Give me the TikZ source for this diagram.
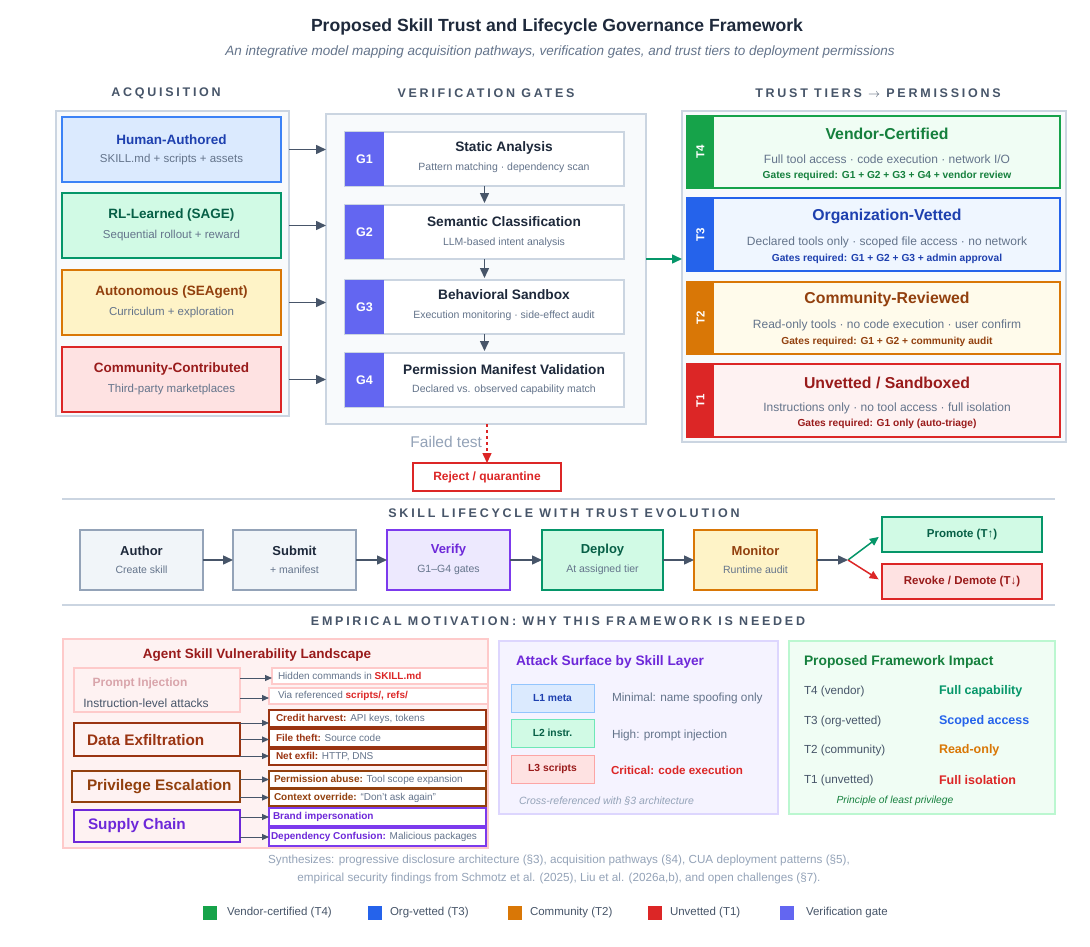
\documentclass[tikz,border=0pt]{standalone}
\usepackage{fontspec}
\setmainfont{Liberation Sans}
\newfontfamily\spacedfont[LetterSpace=22]{Liberation Sans}
\usetikzlibrary{arrows.meta,calc}
\newcommand\fsz[1]{\fontsize{#1}{#1}\selectfont}
\definecolor{cDark}{HTML}{1E293B}
\definecolor{cSlate6}{HTML}{475569}
\definecolor{cSub}{HTML}{64748B}
\definecolor{cLight}{HTML}{94A3B8}
\definecolor{cPanel}{HTML}{F8FAFC}
\definecolor{cPanelB}{HTML}{CBD5E1}
\definecolor{cSlate1}{HTML}{F1F5F9}
\definecolor{cSlate4}{HTML}{94A3B8}
\definecolor{cBlue5}{HTML}{3B82F6}
\definecolor{cBlue1}{HTML}{DBEAFE}
\definecolor{cBlue3}{HTML}{93C5FD}
\definecolor{cBlue8}{HTML}{1E40AF}
\definecolor{cBlue6}{HTML}{2563EB}
\definecolor{cBlue0}{HTML}{EFF6FF}
\definecolor{cEm6}{HTML}{059669}
\definecolor{cEm1}{HTML}{D1FAE5}
\definecolor{cEm3}{HTML}{6EE7B7}
\definecolor{cEm8}{HTML}{065F46}
\definecolor{cAm6}{HTML}{D97706}
\definecolor{cAm1}{HTML}{FEF3C7}
\definecolor{cAm8}{HTML}{92400E}
\definecolor{cAm0}{HTML}{FFFBEB}
\definecolor{cRed6}{HTML}{DC2626}
\definecolor{cRed1}{HTML}{FEE2E2}
\definecolor{cRed3}{HTML}{FCA5A5}
\definecolor{cRed8}{HTML}{991B1B}
\definecolor{cRed0}{HTML}{FEF2F2}
\definecolor{cRed2}{HTML}{FECACA}
\definecolor{cGreen6}{HTML}{16A34A}
\definecolor{cGreen0}{HTML}{F0FDF4}
\definecolor{cGreen7}{HTML}{15803D}
\definecolor{cGreen2}{HTML}{BBF7D0}
\definecolor{cIndigo}{HTML}{6366F1}
\definecolor{cViolet6}{HTML}{7C3AED}
\definecolor{cViolet7}{HTML}{6D28D9}
\definecolor{cViolet0}{HTML}{F5F3FF}
\definecolor{cViolet1}{HTML}{EDE9FE}
\definecolor{cViolet2}{HTML}{DDD6FE}
\definecolor{cOr8}{HTML}{9A3412}
\definecolor{cPink}{HTML}{D9A5AB}
\begin{document}
\begin{tikzpicture}[x=1pt,y=-1pt,
  every node/.style={inner sep=0pt,outer sep=0pt},
  nw/.style={anchor=north west},
  hdr/.style={font=\spacedfont\bfseries\fsz{12.5}, text=cSlate6},
  arr/.style={draw=cSlate6, line width=1.5pt, -{Triangle[length=10pt,width=9pt]}},
  tarr/.style={draw=cSlate6, line width=1pt, -{Triangle[length=7pt,width=6pt]}},
  subt/.style={font=\fsz{11.5}, text=cSub},
  atitle/.style={font=\bfseries\fsz{13.5}},
  gtitle/.style={font=\bfseries\fsz{13.7}, text=cDark},
  gsub/.style={font=\fsz{10.5}, text=cSub},
  ttitle/.style={font=\bfseries\fsz{15.8}},
  tdesc/.style={font=\fsz{12}, text=cSub},
  tgate/.style={font=\bfseries\fsz{10.2}},
  ltitle/.style={font=\bfseries\fsz{13}},
  lsub/.style={font=\fsz{10.5}, text=cSub},
  big/.style={font=\bfseries\fsz{15.3}, anchor=west},
  sbox/.style={nw, fill=white, line width=1.2pt, minimum width=217pt},
  stxt/.style={font=\fsz{10}, text=cSub, anchor=west},
  ltag/.style={nw, line width=1pt, minimum width=83pt, minimum height=28pt},
  ldesc/.style={font=\fsz{11.8}, text=cSub, anchor=west},
  irow/.style={font=\fsz{11.7}, text=cSlate6, anchor=west},
  ival/.style={font=\bfseries\fsz{12.5}, anchor=west},
  legsq/.style={nw, minimum width=14pt, minimum height=14pt},
  legtx/.style={font=\fsz{11.5}, text=cSlate6, anchor=west}
]
\useasboundingbox (0,0) rectangle (1090,947);
\fill[white] (0,0) rectangle (1090,947);

% title
\node[font=\bfseries\fsz{17.6}, text=cDark] (title) at (557,27) {Proposed Skill Trust and Lifecycle Governance Framework};
\node[font=\itshape\fsz{13.5}, text=cSub] (subtitle) at (560,52) {An integrative model mapping acquisition pathways, verification gates, and trust tiers to deployment permissions};

% section headers
\node[hdr] (h-acq) at (166,93) {ACQUISITION};
\node[hdr] (h-ver) at (486,93) {VERIFICATION GATES};
\node[hdr] (h-tt) at (878,93) {TRUST TIERS $\rightarrow$ PERMISSIONS};

% acquisition panel
\node[nw, draw=cPanelB, fill=cPanel, line width=1.5pt, minimum width=233pt, minimum height=305pt] (acq) at (56,111) {};
\node[nw, draw=cBlue5, fill=cBlue1, line width=1.5pt, minimum width=219pt, minimum height=65pt] (ha) at (62,117) {};
\node[atitle, text=cBlue8] (ha-t) at (171.5,139.5) {Human-Authored};
\node[subt] (ha-s) at (171.5,159.5) {SKILL.md + scripts + assets};
\node[nw, draw=cEm6, fill=cEm1, line width=1.5pt, minimum width=219pt, minimum height=65pt] (rl) at (62,193) {};
\node[atitle, text=cEm8] (rl-t) at (171.5,215.5) {RL-Learned (SAGE)};
\node[subt] (rl-s) at (171.5,235.5) {Sequential rollout + reward};
\node[nw, draw=cAm6, fill=cAm1, line width=1.5pt, minimum width=219pt, minimum height=65pt] (au) at (62,270) {};
\node[atitle, text=cAm8] (au-t) at (171.5,292.5) {Autonomous (SEAgent)};
\node[subt] (au-s) at (171.5,312.5) {Curriculum + exploration};
\node[nw, draw=cRed6, fill=cRed1, line width=1.5pt, minimum width=219pt, minimum height=65pt] (cc) at (62,347) {};
\node[atitle, text=cRed8] (cc-t) at (171.5,369.5) {Community-Contributed};
\node[subt] (cc-s) at (171.5,389.5) {Third-party marketplaces};

% verification panel
\node[nw, draw=cPanelB, fill=cPanel, line width=1.5pt, minimum width=320pt, minimum height=310pt] (ver) at (326,114) {};
\draw[arr] (acq.east |- ha.east) -- (ver.west |- ha.east);
\draw[arr] (acq.east |- rl.east) -- (ver.west |- rl.east);
\draw[arr] (acq.east |- au.east) -- (ver.west |- au.east);
\draw[arr] (acq.east |- cc.east) -- (ver.west |- cc.east);

\node[nw, draw=cPanelB, fill=white, line width=1.5pt, minimum width=279pt, minimum height=54pt] (g1) at (345,132) {};
\node[nw, fill=cIndigo, minimum width=39pt, minimum height=54pt] (g1b) at (345,132) {};
\node[font=\bfseries\fsz{12.5}, text=white] (g1l) at (g1b.center) {G1};
\node[gtitle] (g1t) at (504,147.5) {Static Analysis};
\node[gsub] (g1s) at (504,168) {Pattern matching · dependency scan};

\node[nw, draw=cPanelB, fill=white, line width=1.5pt, minimum width=279pt, minimum height=54pt] (g2) at (345,205) {};
\node[nw, fill=cIndigo, minimum width=39pt, minimum height=54pt] (g2b) at (345,205) {};
\node[font=\bfseries\fsz{12.5}, text=white] (g2l) at (g2b.center) {G2};
\node[gtitle] (g2t) at (504,221.5) {Semantic Classification};
\node[gsub] (g2s) at (504,243) {LLM-based intent analysis};

\node[nw, draw=cPanelB, fill=white, line width=1.5pt, minimum width=279pt, minimum height=54pt] (g3) at (345,280) {};
\node[nw, fill=cIndigo, minimum width=39pt, minimum height=54pt] (g3b) at (345,280) {};
\node[font=\bfseries\fsz{12.5}, text=white] (g3l) at (g3b.center) {G3};
\node[gtitle] (g3t) at (504,294.5) {Behavioral Sandbox};
\node[gsub] (g3s) at (504,316) {Execution monitoring · side-effect audit};

\node[nw, draw=cPanelB, fill=white, line width=1.5pt, minimum width=279pt, minimum height=54pt] (g4) at (345,353) {};
\node[nw, fill=cIndigo, minimum width=39pt, minimum height=54pt] (g4b) at (345,353) {};
\node[font=\bfseries\fsz{12.5}, text=white] (g4l) at (g4b.center) {G4};
\node[gtitle] (g4t) at (504,369.5) {Permission Manifest Validation};
\node[gsub] (g4s) at (504,390) {Declared vs. observed capability match};

\draw[arr, shorten >=2pt] (g1.south) -- (g2.north);
\draw[arr, shorten >=2pt] (g2.south) -- (g3.north);
\draw[arr, shorten >=2pt] (g3.south) -- (g4.north);

% reject
\node[nw, draw=cRed6, fill=white, line width=1.2pt, minimum width=148pt, minimum height=28pt] (rej) at (413,463) {};
\node[font=\bfseries\fsz{12}, text=cRed6] (rej-t) at (rej.center) {Reject / quarantine};
\draw[draw=cRed6, line width=1.5pt, dashed, -{Triangle[length=10pt,width=9pt]}] (ver.south -| rej.north) -- (rej.north);
\node[font=\fsz{15.5}, text=cLight, anchor=east] (failed) at (482,442) {Failed test};

% trust tiers
\node[nw, draw=cPanelB, fill=cPanel, line width=1.5pt, minimum width=384pt, minimum height=331pt] (tt) at (682,111) {};
\coordinate (gateout) at (646,259);
\draw[draw=cEm6, line width=1.5pt, -{Triangle[length=10pt,width=9pt]}] (gateout) -- (gateout -| tt.west);

\node[nw, draw=cGreen6, fill=cGreen0, line width=2pt, minimum width=373pt, minimum height=72pt] (t4) at (687,116) {};
\node[nw, fill=cGreen6, minimum width=27pt, minimum height=72pt] (t4b) at (687,116) {};
\node[font=\bfseries\fsz{11.5}, text=white, rotate=90] (t4l) at (t4b.center) {T4};
\node[ttitle, text=cGreen7] (t4t) at (887,133.5) {Vendor-Certified};
\node[tdesc] (t4d) at (887,159) {Full tool access · code execution · network I/O};
\node[tgate, text=cGreen7] (t4g) at (887,176) {Gates required: G1 + G2 + G3 + G4 + vendor review};

\node[nw, draw=cBlue6, fill=cBlue0, line width=2pt, minimum width=373pt, minimum height=73pt] (t3) at (687,198) {};
\node[nw, fill=cBlue6, minimum width=27pt, minimum height=73pt] (t3b) at (687,198) {};
\node[font=\bfseries\fsz{11.5}, text=white, rotate=90] (t3l) at (t3b.center) {T3};
\node[ttitle, text=cBlue8] (t3t) at (887,216.5) {Organization-Vetted};
\node[tdesc] (t3d) at (887,242) {Declared tools only · scoped file access · no network};
\node[tgate, text=cBlue8] (t3g) at (887,259) {Gates required: G1 + G2 + G3 + admin approval};

\node[nw, draw=cAm6, fill=cAm0, line width=2pt, minimum width=373pt, minimum height=72pt] (t2) at (687,282) {};
\node[nw, fill=cAm6, minimum width=27pt, minimum height=72pt] (t2b) at (687,282) {};
\node[font=\bfseries\fsz{11.5}, text=white, rotate=90] (t2l) at (t2b.center) {T2};
\node[ttitle, text=cAm8] (t2t) at (887,299.5) {Community-Reviewed};
\node[tdesc] (t2d) at (887,325) {Read-only tools · no code execution · user confirm};
\node[tgate, text=cAm8] (t2g) at (887,342) {Gates required: G1 + G2 + community audit};

\node[nw, draw=cRed6, fill=cRed0, line width=2pt, minimum width=373pt, minimum height=73pt] (t1) at (687,364) {};
\node[nw, fill=cRed6, minimum width=27pt, minimum height=73pt] (t1b) at (687,364) {};
\node[font=\bfseries\fsz{11.5}, text=white, rotate=90] (t1l) at (t1b.center) {T1};
\node[ttitle, text=cRed8] (t1t) at (887,382.5) {Unvetted / Sandboxed};
\node[tdesc] (t1d) at (887,408) {Instructions only · no tool access · full isolation};
\node[tgate, text=cRed8] (t1g) at (887,424) {Gates required: G1 only (auto-triage)};

% separators
\draw[cPanelB, line width=1.5pt] (62,499) -- (1055,499);
\draw[cPanelB, line width=1.5pt] (62,605) -- (1055,605);

% lifecycle
\node[hdr] (h-lc) at (564,513) {SKILL LIFECYCLE WITH TRUST EVOLUTION};
\node[nw, draw=cSlate4, fill=cSlate1, line width=1.2pt, minimum width=123pt, minimum height=60pt] (lau) at (80,530) {};
\node[ltitle, text=cDark] (lau-t) at (141.5,550.5) {Author};
\node[lsub] (lau-s) at (141.5,569.5) {Create skill};
\node[nw, draw=cSlate4, fill=cSlate1, line width=1.2pt, minimum width=123pt, minimum height=60pt] (lsu) at (233,530) {};
\node[ltitle, text=cDark] (lsu-t) at (294.5,550.5) {Submit};
\node[lsub] (lsu-s) at (294.5,569.5) {+ manifest};
\node[nw, draw=cViolet6, fill=cViolet1, line width=1.2pt, minimum width=123pt, minimum height=60pt] (lve) at (387,530) {};
\node[ltitle, text=cViolet7] (lve-t) at (448.5,550.5) {Verify};
\node[lsub] (lve-s) at (448.5,569.5) {G1–G4 gates};
\node[nw, draw=cEm6, fill=cEm1, line width=1.2pt, minimum width=121pt, minimum height=60pt] (lde) at (542,530) {};
\node[ltitle, text=cEm8] (lde-t) at (602.5,550.5) {Deploy};
\node[lsub] (lde-s) at (602.5,569.5) {At assigned tier};
\node[nw, draw=cAm6, fill=cAm1, line width=1.2pt, minimum width=123pt, minimum height=60pt] (lmo) at (694,530) {};
\node[ltitle, text=cAm8] (lmo-t) at (755.5,550.5) {Monitor};
\node[lsub] (lmo-s) at (755.5,569.5) {Runtime audit};
\draw[arr] (lau.east) -- (lsu.west);
\draw[arr] (lsu.east) -- (lve.west);
\draw[arr] (lve.east) -- (lde.west);
\draw[arr] (lde.east) -- (lmo.west);
\node[nw, draw=cEm6, fill=cEm1, line width=1.2pt, minimum width=160pt, minimum height=35pt] (lpr) at (882,517) {};
\node[font=\bfseries\fsz{11.5}, text=cEm8] (lpr-t) at (lpr.center) {Promote (T↑)};
\node[nw, draw=cRed6, fill=cRed1, line width=1.2pt, minimum width=160pt, minimum height=35pt] (lrv) at (882,564) {};
\node[font=\bfseries\fsz{11.5}, text=cRed8] (lrv-t) at (lrv.center) {Revoke / Demote (T↓)};
\coordinate (split) at (848,560);
\draw[arr] (lmo.east) -- (split);
\draw[draw=cEm6, line width=1.5pt, -{Triangle[length=9pt,width=8pt]}, shorten >=4pt] (split) -- (lpr.west);
\draw[draw=cRed6, line width=1.5pt, -{Triangle[length=9pt,width=8pt]}, shorten >=4pt] (split) -- (lrv.west);

% empirical
\node[hdr] (h-em) at (558,621) {EMPIRICAL MOTIVATION: WHY THIS FRAMEWORK IS NEEDED};

% vulnerability panel
\node[nw, draw=cRed2, fill=cRed0, line width=1.5pt, minimum width=425pt, minimum height=209pt] (vul) at (63,639) {};
\node[font=\bfseries\fsz{13.5}, text=cRed8] (vul-t) at (257,655.5) {Agent Skill Vulnerability Landscape};

\node[nw, draw=cRed2, fill=cRed0, line width=1.5pt, minimum width=166pt, minimum height=44pt] (pi) at (74,668) {};
\node[font=\bfseries\fsz{12}, text=cPink] (pi-t) at (140,683) {Prompt Injection};
\node[font=\fsz{12}, text=cSlate6] (pi-s) at (146,703) {Instruction-level attacks};
\node[sbox, draw=cRed2, minimum width=216pt, minimum height=16pt] (pi1) at (272,668) {};
\node[stxt] (pi1-t) at (278,676) {Hidden commands in \textcolor{cRed6}{\bfseries SKILL.md}};
\node[sbox, draw=cRed2, minimum width=219pt, minimum height=16pt] (pi2) at (269,688) {};
\node[stxt] (pi2-t) at (278,696) {Via referenced \textcolor{cRed6}{\bfseries scripts/, refs/}};
\draw[tarr] (pi.east |- 0,678) -- (pi1.west |- 0,678);
\draw[tarr] (pi.east |- 0,698) -- (pi2.west |- 0,698);

\node[nw, draw=cOr8, fill=cRed0, line width=1.5pt, minimum width=166pt, minimum height=33pt] (de) at (74,723) {};
\node[big, text=cOr8] (de-t) at (87,740) {Data Exfiltration};
\node[sbox, draw=cOr8, minimum height=17pt] (de1) at (269,710) {};
\node[stxt] (de1-t) at (276,718.5) {\textcolor{cOr8}{\bfseries Credit harvest:} API keys, tokens};
\node[sbox, draw=cOr8, minimum height=18pt] (de2) at (269,729) {};
\node[stxt] (de2-t) at (276,738) {\textcolor{cOr8}{\bfseries File theft:} Source code};
\node[sbox, draw=cOr8, minimum height=16pt] (de3) at (269,749) {};
\node[stxt] (de3-t) at (276,757) {\textcolor{cOr8}{\bfseries Net exfil:} HTTP, DNS};
\draw[tarr] (de.north east) -- (de1.west |- de.north east);
\draw[tarr] (de.east) -- (de2.west |- de.east);
\draw[tarr] (de.south east) -- (de3.west |- de.south east);

\node[nw, draw=cAm8, fill=cRed0, line width=1.5pt, minimum width=168pt, minimum height=31pt] (pe) at (72,771) {};
\node[big, text=cAm8] (pe-t) at (87,786.5) {Privilege Escalation};
\node[sbox, draw=cAm8, minimum height=17pt] (pe1) at (269,771) {};
\node[stxt] (pe1-t) at (274,779.5) {\textcolor{cAm8}{\bfseries Permission abuse:} Tool scope expansion};
\node[sbox, draw=cAm8, minimum height=17pt] (pe2) at (269,789) {};
\node[stxt] (pe2-t) at (274,797.5) {\textcolor{cAm8}{\bfseries Context override:} “Don’t ask again”};
\draw[tarr] (pe.east |- pe1.west) -- (pe1.west);
\draw[tarr] (pe.east |- pe2.west) -- (pe2.west);

\node[nw, draw=cViolet7, fill=cRed0, line width=1.5pt, minimum width=166pt, minimum height=32pt] (sc) at (74,810) {};
\node[big, text=cViolet7] (sc-t) at (88,826) {Supply Chain};
\node[sbox, draw=cViolet6, minimum height=18pt] (sc1) at (269,808) {};
\node[stxt] (sc1-t) at (273,817) {\textcolor{cViolet7}{\bfseries Brand impersonation}};
\node[sbox, draw=cViolet6, minimum height=18pt] (sc2) at (269,828) {};
\node[stxt] (sc2-t) at (271,837) {\textcolor{cViolet7}{\bfseries Dependency Confusion:} Malicious packages};
\draw[tarr] (sc.east |- sc1.west) -- (sc1.west);
\draw[tarr] (sc.east |- sc2.west) -- (sc2.west);

% attack surface panel
\node[nw, draw=cViolet2, fill=cViolet0, line width=1.5pt, minimum width=279pt, minimum height=173pt] (atk) at (499,641) {};
\node[font=\bfseries\fsz{13.7}, text=cViolet7, anchor=west] (atk-t) at (516,662) {Attack Surface by Skill Layer};
\node[ltag, draw=cBlue3, fill=cBlue1] (l1) at (511,684) {};
\node[font=\bfseries\fsz{10.3}, text=cBlue8] (l1-t) at (l1.center) {L1 meta};
\node[ltag, draw=cEm3, fill=cEm1] (l2) at (511,719) {};
\node[font=\bfseries\fsz{10.3}, text=cEm8] (l2-t) at (l2.center) {L2 instr.};
\node[ltag, draw=cRed3, fill=cRed1] (l3) at (511,755) {};
\node[font=\bfseries\fsz{10.3}, text=cRed8] (l3-t) at (l3.center) {L3 scripts};
\node[ldesc] (l1-d) at (612,698) {Minimal: name spoofing only};
\node[ldesc] (l2-d) at (612,735) {High: prompt injection};
\node[font=\bfseries\fsz{11.6}, text=cRed6, anchor=west] (l3-d) at (611,770) {Critical: code execution};
\node[font=\itshape\fsz{10.5}, text=cLight, anchor=west] (atk-f) at (519,801) {Cross-referenced with §3 architecture};

% impact panel
\node[nw, draw=cGreen2, fill=cGreen0, line width=1.5pt, minimum width=266pt, minimum height=173pt] (imp) at (789,641) {};
\node[font=\bfseries\fsz{13.8}, text=cGreen7, anchor=west] (imp-t) at (804,662) {Proposed Framework Impact};
\node[irow] (i4) at (804,691) {T4 (vendor)};
\node[ival, text=cEm6] (i4v) at (939,691) {Full capability};
\node[irow] (i3) at (804,721) {T3 (org-vetted)};
\node[ival, text=cBlue6] (i3v) at (939,721) {Scoped access};
\node[irow] (i2) at (804,750) {T2 (community)};
\node[ival, text=cAm6] (i2v) at (939,750) {Read-only};
\node[irow] (i1) at (804,780) {T1 (unvetted)};
\node[ival, text=cRed6] (i1v) at (939,780) {Full isolation};
\node[font=\itshape\fsz{10.3}, text=cGreen7] (imp-f) at (895,801) {Principle of least privilege};

% footer
\node[font=\fsz{11.7}, text=cLight] (foot1) at (559,860) {Synthesizes: progressive disclosure architecture (§3), acquisition pathways (§4), CUA deployment patterns (§5),};
\node[font=\fsz{11.7}, text=cLight] (foot2) at (559,878) {empirical security findings from Schmotz et al. (2025), Liu et al. (2026a,b), and open challenges (§7).};

% legend
\node[legsq, fill=cGreen6] (lg1) at (203,906) {};
\node[legtx] (lg1-t) at (227,913) {Vendor-certified (T4)};
\node[legsq, fill=cBlue6] (lg2) at (368,906) {};
\node[legtx] (lg2-t) at (390,913) {Org-vetted (T3)};
\node[legsq, fill=cAm6] (lg3) at (508,906) {};
\node[legtx] (lg3-t) at (530,913) {Community (T2)};
\node[legsq, fill=cRed6] (lg4) at (648,906) {};
\node[legtx] (lg4-t) at (670,913) {Unvetted (T1)};
\node[legsq, fill=cIndigo] (lg5) at (780,906) {};
\node[legtx] (lg5-t) at (806,913) {Verification gate};
\end{tikzpicture}
\end{document}
